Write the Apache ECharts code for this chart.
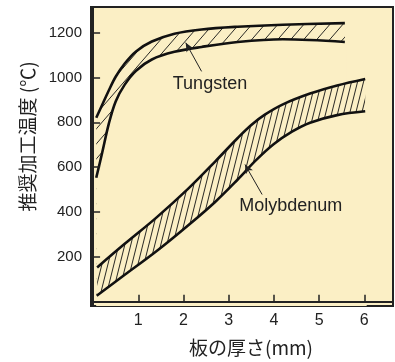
<!DOCTYPE html>
<html><head><meta charset="utf-8">
<script src="https://cdn.jsdelivr.net/npm/echarts@6/dist/echarts.min.js"></script>
<style>html,body{margin:0;padding:0;background:#fff}#c{width:395px;height:362px}</style>
</head><body><div id="c"></div>
<script>
// ---- data ----
const xTicks = [1, 2, 3, 4, 5, 6];
const yTicks = [200, 400, 600, 800, 1000, 1200];
const xTitle = '板の厚さ(mm)';
const yTitle = '推奨加工温度 (℃)';
const tungstenUpperX = [0.07, 0.2, 0.35, 0.5, 0.7, 0.95, 1.3, 1.8, 2.4, 3.2, 4.2, 5.57];
const tungstenUpperY = [820, 877, 943, 1003, 1062, 1116, 1160, 1195, 1214, 1226, 1235, 1242];
const tungstenLowerX = [0.07, 0.2, 0.35, 0.5, 0.7, 0.95, 1.3, 1.8, 2.4, 3.2, 4.2, 5.57];
const tungstenLowerY = [553, 663, 795, 893, 968, 1030, 1080, 1114, 1136, 1158, 1170, 1158];
const molyUpperX = [0.09, 0.7, 1.4, 2.1, 2.7, 3.2, 3.5, 3.8, 4.2, 4.8, 5.4, 6.02];
const molyUpperY = [153, 258, 375, 503, 625, 730, 788, 834, 880, 928, 964, 993];
const molyLowerX = [0.08, 0.7, 1.4, 2.1, 2.7, 3.2, 3.6, 4.0, 4.4, 4.8, 5.4, 6.02];
const molyLowerY = [27, 120, 225, 340, 445, 545, 630, 703, 758, 798, 832, 849];
const labelNames = ['Tungsten', 'Molybdenum'];
const labelPos  = [[2.586, 970], [4.374, 428]];
const arrowFrom = [[2.40, 1027], [3.74, 478]];
const arrowTo   = [[2.05, 1155], [3.36, 612]];

const BG = '#FBEFC5';
function hatch(w, h, lw) {
  const c = document.createElement('canvas');
  c.width = w; c.height = h;
  const g = c.getContext('2d');
  g.strokeStyle = '#111'; g.lineWidth = lw;
  [[0,0],[-w,0],[w,0],[0,-h],[0,h]].forEach(([dx,dy]) => {
    g.beginPath(); g.moveTo(dx, h + dy); g.lineTo(w + dx, dy); g.stroke();
  });
  return c;
}
const hatchT = { image: hatch(13, 15, 0.9), repeat: 'repeat' };
const hatchM = { image: hatch(6, 24, 0.9), repeat: 'repeat' };
const pairs = (xs, ys) => xs.map((x, i) => [x, ys[i]]);

const lineBase = { type: 'line', symbol: 'none', smooth: 0.35, animation: false,
  lineStyle: { color: '#111', width: 2.6 } };
const hatchArea = c => ({ origin: 'start', color: c, opacity: 1 });
const coverArea = { origin: 'start', color: BG, opacity: 1, shadowColor: BG, shadowBlur: 0, shadowOffsetX: 1.5 };

const chart = echarts.init(document.getElementById('c'), null, { renderer: 'canvas' });
chart.setOption({
  animation: false,
  backgroundColor: '#fff',
  grid: { left: 91, top: 7, width: 302, height: 300, show: true, backgroundColor: BG,
    borderColor: '#222', borderWidth: 2 },
  xAxis: {
    type: 'value', min: -0.046, max: 6.635, z: 10,
    axisLine: { show: true, lineStyle: { color: '#222', width: 2 } },
    axisTick: { show: true, inside: true, length: 7, customValues: xTicks, lineStyle: { color: '#222', width: 1.5 } },
    axisLabel: { customValues: xTicks, margin: 7, color: '#222', fontSize: 16, fontFamily: 'Liberation Sans' },
    splitLine: { show: false },
    name: xTitle, nameLocation: 'middle', nameGap: 32,
    nameTextStyle: { color: '#222', fontSize: 19, fontFamily: 'Noto Sans CJK JP', padding: [0, 0, 0, 18] }
  },
  yAxis: {
    type: 'value', min: -19, max: 1314, z: 10,
    axisLine: { show: true, lineStyle: { color: '#222', width: 2 } },
    axisTick: { show: true, inside: true, length: 7, customValues: yTicks, lineStyle: { color: '#222', width: 1.5 } },
    axisLabel: { customValues: yTicks, formatter: v => String(v), margin: 9, color: '#222', fontSize: 15, fontFamily: 'Liberation Sans' },
    splitLine: { show: false },
    name: yTitle, nameLocation: 'middle', nameGap: 54,
    nameTextStyle: { color: '#222', fontSize: 19, fontFamily: 'Noto Sans CJK JP', padding: [0, 0, 0, 40] }
  },
  series: [
    Object.assign({}, lineBase, { name: 'TU', data: pairs(tungstenUpperX, tungstenUpperY), areaStyle: hatchArea(hatchT) }),
    Object.assign({}, lineBase, { name: 'TL', data: pairs(tungstenLowerX, tungstenLowerY), areaStyle: coverArea }),
    Object.assign({}, lineBase, { name: 'MU', data: pairs(molyUpperX, molyUpperY), areaStyle: hatchArea(hatchM) }),
    Object.assign({}, lineBase, { name: 'ML', data: pairs(molyLowerX, molyLowerY), areaStyle: coverArea,
      markLine: {
        silent: true, animation: false, symbol: ['none', 'arrow'], symbolSize: [6, 9],
        lineStyle: { color: '#222', width: 1, type: 'solid' }, label: { show: false },
        data: arrowFrom.map((f, i) => [{ coord: f }, { coord: arrowTo[i] }])
      },
      markPoint: {
        silent: true, animation: false, symbol: 'rect', symbolSize: 1, itemStyle: { color: 'rgba(0,0,0,0)' },
        label: { show: true, position: 'inside', formatter: '{b}', color: '#222', fontSize: 18, fontFamily: 'Liberation Sans' },
        data: labelNames.map((n, i) => ({ name: n, coord: labelPos[i] }))
      }
    })
  ]
});
</script></body></html>
